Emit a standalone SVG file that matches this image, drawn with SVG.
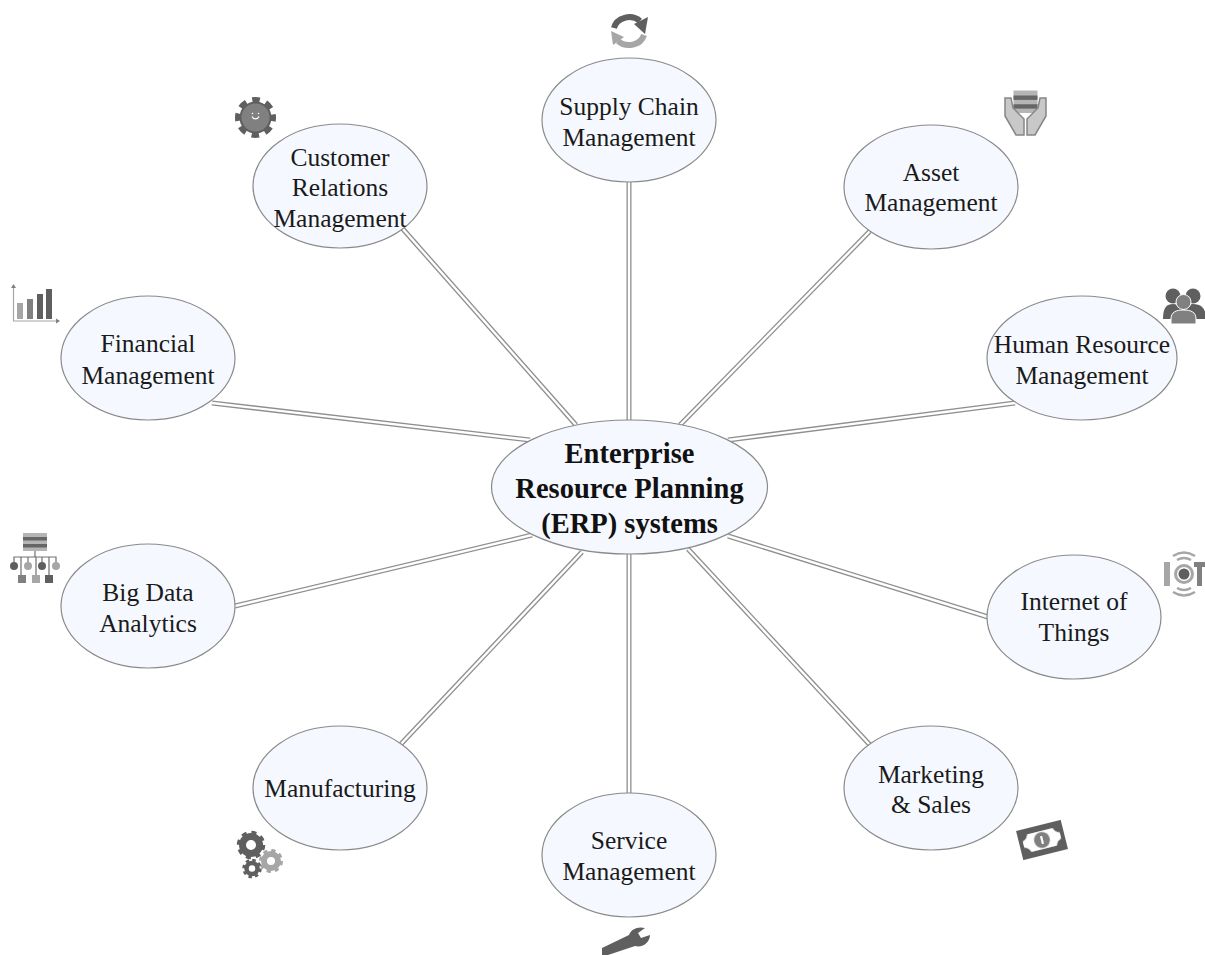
<svg xmlns="http://www.w3.org/2000/svg" width="1205" height="955" viewBox="0 0 1205 955">
<style>
.n{fill:#f5f8ff;stroke:#8a8a8a;stroke-width:1.2}
.t{font-family:"Liberation Serif","Times New Roman",serif;font-size:25.5px;fill:#1a1a1a;text-anchor:middle}
.b{font-size:28.5px;font-weight:bold;fill:#111}
.co{fill:none;stroke:#8f8f8f;stroke-width:5}
.ci{fill:none;stroke:#fff;stroke-width:2.4}
.d{fill:#5f5f5f}.m{fill:#808080}.l{fill:#a6a6a6}
.sd{stroke:#5f5f5f;fill:none}.sm{stroke:#808080;fill:none}.sl{stroke:#a6a6a6;fill:none}
</style>
<defs>
<filter id="s" x="-20%" y="-20%" width="140%" height="140%"><feGaussianBlur stdDeviation="0.5"/></filter>
<g id="server"><rect x="0" y="0" width="24" height="18" fill="#b5b5b5"/><rect x="0" y="4" width="24" height="3.500" fill="#666"/><rect x="0" y="11" width="24" height="3.500" fill="#666"/></g>
</defs>
<g id="connectors">
<g class="co">
<path d="M629 182V420"/><path d="M402 228L576 425"/><path d="M870 231L680 425"/><path d="M1015 403L728 440"/><path d="M988 617L728 536"/><path d="M870 745L688 549"/><path d="M629 793V554"/><path d="M401 744L582 552"/><path d="M235 606L532 535"/><path d="M212 403L530 440"/>
</g>
<g class="ci">
<path d="M629 182V420"/><path d="M402 228L576 425"/><path d="M870 231L680 425"/><path d="M1015 403L728 440"/><path d="M988 617L728 536"/><path d="M870 745L688 549"/><path d="M629 793V554"/><path d="M401 744L582 552"/><path d="M235 606L532 535"/><path d="M212 403L530 440"/>
</g>
</g>
<g id="erp"><ellipse class="n" cx="629.500" cy="487" rx="138" ry="67"/><text class="t b"><tspan x="629.500" y="463">Enterprise</tspan><tspan x="629.500" y="498">Resource Planning</tspan><tspan x="629.500" y="533">(ERP) systems</tspan></text></g>
<g id="supply-chain"><ellipse class="n" cx="629" cy="120" rx="87" ry="62"/><text class="t"><tspan x="629" y="115">Supply Chain</tspan><tspan x="629" y="146">Management</tspan></text>
<g filter="url(#s)"><path class="sd" stroke-width="6" d="M614 28A15.500 13.500 0 0 1 640 21"/><path class="d" d="M648 17L645 34L634 24Z"/><path class="sl" stroke-width="6" d="M644 35A15.500 13.500 0 0 1 618 41"/><path class="l" d="M611 31L613 45L624 37Z"/></g></g>
<g id="crm"><ellipse class="n" cx="340" cy="186" rx="87" ry="62"/><text class="t"><tspan x="340" y="166">Customer</tspan><tspan x="340" y="196">Relations</tspan><tspan x="340" y="227">Management</tspan></text>
<g filter="url(#s)"><circle class="sd" cx="255.500" cy="117.500" r="17.500" stroke-width="6" stroke-dasharray="7.500 6.240" stroke-dashoffset="3.750"/><circle class="d" cx="255.500" cy="117.500" r="16"/><circle class="m" cx="255.500" cy="117.500" r="14"/><path d="M252 116.500a3.800 3.800 0 0 0 7 0" fill="none" stroke="#fff" stroke-width="1.200"/><circle cx="252.500" cy="113.500" r=".8" fill="#fff"/><circle cx="258.500" cy="113.500" r=".8" fill="#fff"/></g></g>
<g id="asset"><ellipse class="n" cx="931" cy="187" rx="87" ry="62"/><text class="t"><tspan x="931" y="181">Asset</tspan><tspan x="931" y="211">Management</tspan></text>
<g filter="url(#s)"><use href="#server" transform="translate(1013.500 90.500) scale(1 1.250)"/><path fill="#c8c8c8" stroke="#858585" stroke-width="1.500" d="M1005 98H1011L1013 108L1024 119V135H1016L1005 116Z"/><path fill="#c8c8c8" stroke="#858585" stroke-width="1.500" d="M1046 98H1040L1038 108L1027 119V135H1035L1046 116Z"/></g></g>
<g id="hr"><ellipse class="n" cx="1082" cy="358" rx="95" ry="62"/><text class="t"><tspan x="1082" y="353">Human Resource</tspan><tspan x="1082" y="384">Management</tspan></text>
<g filter="url(#s)"><circle class="d" cx="1173" cy="296" r="7.500"/><circle class="d" cx="1193" cy="296" r="7.500"/><path class="d" d="M1163 319C1163 307 1167 304 1173 304C1179 304 1184 307 1184 319Z"/><path class="d" d="M1183 319C1183 307 1187 304 1193 304C1200 304 1206 307 1206 319Z"/><circle class="m" cx="1183.500" cy="302" r="7.500" stroke="#fff" stroke-width="1"/><path class="m" stroke="#fff" stroke-width="1" d="M1171 324V319C1171 312 1176 310 1183.500 310C1191 310 1196 312 1196 319V324Z"/></g></g>
<g id="iot"><ellipse class="n" cx="1074" cy="617" rx="87" ry="62"/><text class="t"><tspan x="1074" y="610">Internet of</tspan><tspan x="1074" y="641">Things</tspan></text>
<g filter="url(#s)"><rect class="l" x="1164" y="562" width="6" height="24"/><circle class="sl" cx="1184" cy="574" r="8.500" stroke-width="3"/><circle class="d" cx="1184" cy="574" r="5.500"/><path class="m" d="M1194 562H1205V567H1202V586H1197V567H1194Z"/><path class="sl" stroke-width="2.500" d="M1177 560Q1184 556 1191 560M1173 556Q1184 549 1195 556M1177 588Q1184 592 1191 588M1173 592Q1184 599 1195 592"/></g></g>
<g id="marketing"><ellipse class="n" cx="931" cy="788" rx="87" ry="62"/><text class="t"><tspan x="931" y="783">Marketing</tspan><tspan x="931" y="813">&amp; Sales</tspan></text>
<g filter="url(#s)" transform="rotate(-14 1042 840)"><rect class="d" x="1019" y="825" width="46" height="30"/><path fill="#fff" d="M1029 831H1055C1056 834 1058 836 1061 837V843C1058 844 1056 846 1055 849H1029C1028 846 1026 844 1023 843V837C1026 836 1028 834 1029 831Z"/><circle class="m" cx="1042" cy="840" r="8"/><path d="M1041 836L1043 836V844H1041Z" fill="#fff"/></g></g>
<g id="service"><ellipse class="n" cx="629" cy="855" rx="87" ry="62"/><text class="t"><tspan x="629" y="849">Service</tspan><tspan x="629" y="880">Management</tspan></text>
<g filter="url(#s)"><path class="d" d="M602 948L629 935C631 929 638 926 645 928L638 933L641 938L650 935C650 942 643 948 635 946L608 955H602Z"/></g></g>
<g id="manufacturing"><ellipse class="n" cx="340" cy="788" rx="87" ry="62"/><text class="t" x="340" y="797">Manufacturing</text>
<g filter="url(#s)"><circle class="sd" cx="251" cy="845" r="8.500" stroke-width="7"/><circle class="sd" cx="251" cy="845" r="12.500" stroke-width="3.500" stroke-dasharray="5 4.820"/>
<circle class="sl" cx="271" cy="861" r="7" stroke-width="6"/><circle class="sl" cx="271" cy="861" r="10.500" stroke-width="3" stroke-dasharray="4.200 4.050"/>
<circle class="sd" cx="252" cy="868.500" r="5.500" stroke-width="4.500"/><circle class="sd" cx="252" cy="868.500" r="8.500" stroke-width="2.500" stroke-dasharray="3.500 3.180"/></g></g>
<g id="big-data"><ellipse class="n" cx="148" cy="606" rx="87" ry="62"/><text class="t"><tspan x="148" y="601">Big Data</tspan><tspan x="148" y="632">Analytics</tspan></text>
<g filter="url(#s)"><use href="#server" transform="translate(23 533)"/><path d="M35 551V557M14 566V557H56V566M28 557V566M42 557V566M21 557V575M36 557V575M49 557V575" stroke="#707070" stroke-width="1.200" fill="none"/><circle class="d" cx="14" cy="566" r="4"/><circle class="l" cx="28" cy="566" r="4"/><circle class="d" cx="42" cy="566" r="4"/><circle class="l" cx="56" cy="566" r="4"/><rect class="m" x="18" y="575" width="8" height="8"/><rect class="l" x="32" y="575" width="8" height="8"/><rect class="d" x="45" y="575" width="8" height="8"/></g></g>
<g id="financial"><ellipse class="n" cx="148" cy="358" rx="87" ry="62"/><text class="t"><tspan x="148" y="352">Financial</tspan><tspan x="148" y="384">Management</tspan></text>
<g filter="url(#s)"><path class="sl" stroke-width="1.200" d="M13.500 286V321H59"/><path class="m" d="M13.500 284L16 288H11ZM60 321L56 323.500V318.500Z"/><rect class="l" x="17" y="303" width="6" height="16"/><rect class="m" x="27" y="299" width="6" height="20"/><rect class="d" x="37" y="294" width="6" height="25"/><rect class="d" x="46" y="289" width="6" height="30"/></g></g>
</svg>
